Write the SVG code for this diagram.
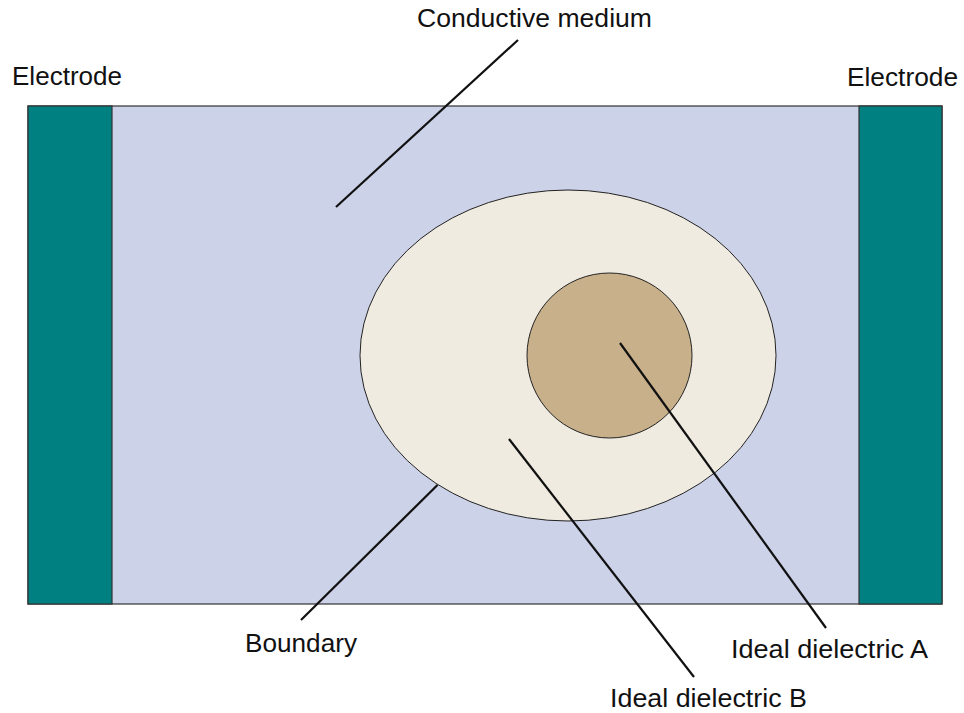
<svg xmlns="http://www.w3.org/2000/svg" width="964" height="713" viewBox="0 0 964 713">
<style>
.lbl{font-family:"Liberation Sans",Arial,sans-serif;font-size:26px;fill:#111}
.ln{stroke:#111;stroke-width:2.2;fill:none}
.edge{stroke:#333;stroke-width:1.2}
</style>
<rect width="964" height="713" fill="#fff"/>
<g id="medium"><rect x="28" y="106" width="914" height="498" fill="#CCD2E8" class="edge"/></g>
<g id="electrode-left"><rect x="28" y="106" width="84" height="498" fill="#008080" class="edge"/></g>
<g id="electrode-right"><rect x="859" y="106" width="83" height="498" fill="#008080" class="edge"/></g>
<g id="dielectric-b"><ellipse cx="568" cy="355.5" rx="208" ry="165.5" fill="#F0EBE0" stroke="#222" stroke-width="1"/></g>
<g id="dielectric-a"><circle cx="609.5" cy="355.5" r="82.5" fill="#C8B08A" stroke="#222" stroke-width="1"/></g>
<g id="connectors">
<line class="ln" x1="518" y1="40" x2="336" y2="207"/>
<line class="ln" x1="437.5" y1="485" x2="301" y2="620"/>
<line class="ln" x1="509" y1="439" x2="694" y2="677"/>
<line class="ln" x1="620" y1="343" x2="826" y2="628"/>
</g>
<g id="labels">
<text class="lbl" x="12" y="85" textLength="110" lengthAdjust="spacingAndGlyphs">Electrode</text>
<text class="lbl" x="847" y="86" textLength="111" lengthAdjust="spacingAndGlyphs">Electrode</text>
<text class="lbl" x="417" y="27" textLength="235" lengthAdjust="spacingAndGlyphs">Conductive medium</text>
<text class="lbl" x="245" y="652" textLength="112" lengthAdjust="spacingAndGlyphs">Boundary</text>
<text class="lbl" x="731" y="658" textLength="197" lengthAdjust="spacingAndGlyphs">Ideal dielectric A</text>
<text class="lbl" x="610" y="707" textLength="197" lengthAdjust="spacingAndGlyphs">Ideal dielectric B</text>
</g>
</svg>
